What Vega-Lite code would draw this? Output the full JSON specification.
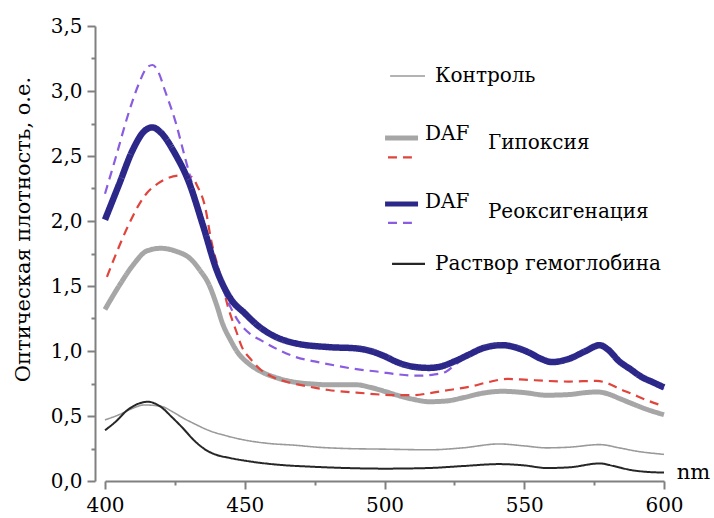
{
  "$schema": "https://vega.github.io/schema/vega-lite/v6.json",
  "width": 559,
  "height": 455,
  "autosize": {"type": "none"},
  "padding": {"left": 105, "top": 26, "right": 50, "bottom": 37},
  "background": "white",
  "config": {
    "view": {"stroke": null},
    "font": "DejaVu Serif",
    "axis": {
      "labelFont": "DejaVu Serif",
      "titleFont": "DejaVu Serif",
      "labelFontSize": 20,
      "titleFontSize": 21,
      "titleFontWeight": "normal",
      "labelColor": "#000000",
      "titleColor": "#000000",
      "domainColor": "#808080",
      "tickColor": "#808080",
      "domainWidth": 2,
      "tickWidth": 2,
      "labelFlush": false,
      "grid": false
    }
  },
  "datasets": {
    "curves": [
      {"series": "Контроль", "nm": 400, "od": 0.47},
      {"series": "Контроль", "nm": 405, "od": 0.51},
      {"series": "Контроль", "nm": 410, "od": 0.56},
      {"series": "Контроль", "nm": 414, "od": 0.585},
      {"series": "Контроль", "nm": 420, "od": 0.575},
      {"series": "Контроль", "nm": 424, "od": 0.535},
      {"series": "Контроль", "nm": 427.5, "od": 0.49},
      {"series": "Контроль", "nm": 432, "od": 0.44},
      {"series": "Контроль", "nm": 437, "od": 0.39},
      {"series": "Контроль", "nm": 443, "od": 0.35},
      {"series": "Контроль", "nm": 450, "od": 0.315},
      {"series": "Контроль", "nm": 458, "od": 0.29},
      {"series": "Контроль", "nm": 468, "od": 0.275},
      {"series": "Контроль", "nm": 476, "od": 0.26},
      {"series": "Контроль", "nm": 486, "od": 0.25},
      {"series": "Контроль", "nm": 500, "od": 0.245},
      {"series": "Контроль", "nm": 516, "od": 0.24},
      {"series": "Контроль", "nm": 528, "od": 0.255},
      {"series": "Контроль", "nm": 541, "od": 0.285},
      {"series": "Контроль", "nm": 550, "od": 0.27},
      {"series": "Контроль", "nm": 558, "od": 0.255},
      {"series": "Контроль", "nm": 566, "od": 0.26},
      {"series": "Контроль", "nm": 577, "od": 0.28},
      {"series": "Контроль", "nm": 584, "od": 0.255},
      {"series": "Контроль", "nm": 590, "od": 0.23},
      {"series": "Контроль", "nm": 600, "od": 0.205},

      {"series": "Раствор гемоглобина", "nm": 400, "od": 0.39},
      {"series": "Раствор гемоглобина", "nm": 404, "od": 0.46},
      {"series": "Раствор гемоглобина", "nm": 408, "od": 0.545},
      {"series": "Раствор гемоглобина", "nm": 412, "od": 0.595},
      {"series": "Раствор гемоглобина", "nm": 415.4, "od": 0.61},
      {"series": "Раствор гемоглобина", "nm": 418, "od": 0.595},
      {"series": "Раствор гемоглобина", "nm": 420, "od": 0.57},
      {"series": "Раствор гемоглобина", "nm": 424, "od": 0.49},
      {"series": "Раствор гемоглобина", "nm": 427.5, "od": 0.415},
      {"series": "Раствор гемоглобина", "nm": 432, "od": 0.31},
      {"series": "Раствор гемоглобина", "nm": 436, "od": 0.24},
      {"series": "Раствор гемоглобина", "nm": 440, "od": 0.2},
      {"series": "Раствор гемоглобина", "nm": 444, "od": 0.18},
      {"series": "Раствор гемоглобина", "nm": 452, "od": 0.15},
      {"series": "Раствор гемоглобина", "nm": 462, "od": 0.125},
      {"series": "Раствор гемоглобина", "nm": 474, "od": 0.11},
      {"series": "Раствор гемоглобина", "nm": 486, "od": 0.1},
      {"series": "Раствор гемоглобина", "nm": 500, "od": 0.095},
      {"series": "Раствор гемоглобина", "nm": 516, "od": 0.1},
      {"series": "Раствор гемоглобина", "nm": 528, "od": 0.115},
      {"series": "Раствор гемоглобина", "nm": 541, "od": 0.13},
      {"series": "Раствор гемоглобина", "nm": 550, "od": 0.12},
      {"series": "Раствор гемоглобина", "nm": 558, "od": 0.1},
      {"series": "Раствор гемоглобина", "nm": 566, "od": 0.105},
      {"series": "Раствор гемоглобина", "nm": 577, "od": 0.135},
      {"series": "Раствор гемоглобина", "nm": 582, "od": 0.115},
      {"series": "Раствор гемоглобина", "nm": 588, "od": 0.085},
      {"series": "Раствор гемоглобина", "nm": 594, "od": 0.07},
      {"series": "Раствор гемоглобина", "nm": 600, "od": 0.065},

      {"series": "Гипоксия + DAF", "nm": 400, "od": 1.32},
      {"series": "Гипоксия + DAF", "nm": 405, "od": 1.5},
      {"series": "Гипоксия + DAF", "nm": 410, "od": 1.66},
      {"series": "Гипоксия + DAF", "nm": 415, "od": 1.77},
      {"series": "Гипоксия + DAF", "nm": 420, "od": 1.79},
      {"series": "Гипоксия + DAF", "nm": 425, "od": 1.77},
      {"series": "Гипоксия + DAF", "nm": 431, "od": 1.7},
      {"series": "Гипоксия + DAF", "nm": 434, "od": 1.62},
      {"series": "Гипоксия + DAF", "nm": 437, "od": 1.52},
      {"series": "Гипоксия + DAF", "nm": 440, "od": 1.35},
      {"series": "Гипоксия + DAF", "nm": 442, "od": 1.215},
      {"series": "Гипоксия + DAF", "nm": 445, "od": 1.08},
      {"series": "Гипоксия + DAF", "nm": 447.6, "od": 0.985},
      {"series": "Гипоксия + DAF", "nm": 451, "od": 0.91},
      {"series": "Гипоксия + DAF", "nm": 456, "od": 0.84},
      {"series": "Гипоксия + DAF", "nm": 462, "od": 0.79},
      {"series": "Гипоксия + DAF", "nm": 468, "od": 0.76},
      {"series": "Гипоксия + DAF", "nm": 475, "od": 0.745},
      {"series": "Гипоксия + DAF", "nm": 480, "od": 0.74},
      {"series": "Гипоксия + DAF", "nm": 485, "od": 0.74},
      {"series": "Гипоксия + DAF", "nm": 490, "od": 0.74},
      {"series": "Гипоксия + DAF", "nm": 495, "od": 0.72},
      {"series": "Гипоксия + DAF", "nm": 500, "od": 0.69},
      {"series": "Гипоксия + DAF", "nm": 504.5, "od": 0.66},
      {"series": "Гипоксия + DAF", "nm": 510, "od": 0.63},
      {"series": "Гипоксия + DAF", "nm": 516, "od": 0.61},
      {"series": "Гипоксия + DAF", "nm": 522, "od": 0.615},
      {"series": "Гипоксия + DAF", "nm": 528, "od": 0.64},
      {"series": "Гипоксия + DAF", "nm": 535, "od": 0.675},
      {"series": "Гипоксия + DAF", "nm": 542, "od": 0.69},
      {"series": "Гипоксия + DAF", "nm": 550, "od": 0.68},
      {"series": "Гипоксия + DAF", "nm": 558, "od": 0.66},
      {"series": "Гипоксия + DAF", "nm": 566, "od": 0.665},
      {"series": "Гипоксия + DAF", "nm": 572, "od": 0.68},
      {"series": "Гипоксия + DAF", "nm": 576, "od": 0.685},
      {"series": "Гипоксия + DAF", "nm": 580, "od": 0.67},
      {"series": "Гипоксия + DAF", "nm": 584, "od": 0.635},
      {"series": "Гипоксия + DAF", "nm": 588, "od": 0.6},
      {"series": "Гипоксия + DAF", "nm": 594, "od": 0.55},
      {"series": "Гипоксия + DAF", "nm": 600, "od": 0.51},

      {"series": "Гипоксия", "nm": 400.7, "od": 1.57},
      {"series": "Гипоксия", "nm": 404, "od": 1.75},
      {"series": "Гипоксия", "nm": 408, "od": 1.95},
      {"series": "Гипоксия", "nm": 412, "od": 2.12},
      {"series": "Гипоксия", "nm": 415, "od": 2.215},
      {"series": "Гипоксия", "nm": 419, "od": 2.29},
      {"series": "Гипоксия", "nm": 422.5, "od": 2.33},
      {"series": "Гипоксия", "nm": 427, "od": 2.35},
      {"series": "Гипоксия", "nm": 431, "od": 2.34},
      {"series": "Гипоксия", "nm": 433, "od": 2.27},
      {"series": "Гипоксия", "nm": 435.8, "od": 2.11},
      {"series": "Гипоксия", "nm": 438, "od": 1.85},
      {"series": "Гипоксия", "nm": 441, "od": 1.6},
      {"series": "Гипоксия", "nm": 444, "od": 1.34},
      {"series": "Гипоксия", "nm": 447, "od": 1.15},
      {"series": "Гипоксия", "nm": 449, "od": 1.03},
      {"series": "Гипоксия", "nm": 452, "od": 0.94},
      {"series": "Гипоксия", "nm": 456, "od": 0.85},
      {"series": "Гипоксия", "nm": 460, "od": 0.8},
      {"series": "Гипоксия", "nm": 465.5, "od": 0.76},
      {"series": "Гипоксия", "nm": 472, "od": 0.73},
      {"series": "Гипоксия", "nm": 480, "od": 0.7},
      {"series": "Гипоксия", "nm": 490, "od": 0.68},
      {"series": "Гипоксия", "nm": 504.5, "od": 0.66},
      {"series": "Гипоксия", "nm": 510, "od": 0.66},
      {"series": "Гипоксия", "nm": 516, "od": 0.675},
      {"series": "Гипоксия", "nm": 523, "od": 0.7},
      {"series": "Гипоксия", "nm": 530.5, "od": 0.725},
      {"series": "Гипоксия", "nm": 537, "od": 0.76},
      {"series": "Гипоксия", "nm": 544, "od": 0.785},
      {"series": "Гипоксия", "nm": 550, "od": 0.78},
      {"series": "Гипоксия", "nm": 558, "od": 0.77},
      {"series": "Гипоксия", "nm": 566, "od": 0.765},
      {"series": "Гипоксия", "nm": 576, "od": 0.77},
      {"series": "Гипоксия", "nm": 580, "od": 0.75},
      {"series": "Гипоксия", "nm": 584, "od": 0.71},
      {"series": "Гипоксия", "nm": 588, "od": 0.675},
      {"series": "Гипоксия", "nm": 594, "od": 0.62},
      {"series": "Гипоксия", "nm": 600, "od": 0.575},

      {"series": "Реоксигенация", "nm": 400, "od": 2.21},
      {"series": "Реоксигенация", "nm": 404, "od": 2.5},
      {"series": "Реоксигенация", "nm": 408, "od": 2.8},
      {"series": "Реоксигенация", "nm": 412, "od": 3.05},
      {"series": "Реоксигенация", "nm": 415, "od": 3.18},
      {"series": "Реоксигенация", "nm": 417, "od": 3.2},
      {"series": "Реоксигенация", "nm": 419, "od": 3.15},
      {"series": "Реоксигенация", "nm": 421.5, "od": 3.0},
      {"series": "Реоксигенация", "nm": 425, "od": 2.78},
      {"series": "Реоксигенация", "nm": 428.6, "od": 2.49},
      {"series": "Реоксигенация", "nm": 432, "od": 2.22},
      {"series": "Реоксигенация", "nm": 436, "od": 1.93},
      {"series": "Реоксигенация", "nm": 440, "od": 1.62},
      {"series": "Реоксигенация", "nm": 444, "od": 1.38},
      {"series": "Реоксигенация", "nm": 448, "od": 1.22},
      {"series": "Реоксигенация", "nm": 452, "od": 1.13},
      {"series": "Реоксигенация", "nm": 456, "od": 1.08},
      {"series": "Реоксигенация", "nm": 462, "od": 1.01},
      {"series": "Реоксигенация", "nm": 468, "od": 0.955},
      {"series": "Реоксигенация", "nm": 475, "od": 0.92},
      {"series": "Реоксигенация", "nm": 482, "od": 0.89},
      {"series": "Реоксигенация", "nm": 490, "od": 0.86},
      {"series": "Реоксигенация", "nm": 498, "od": 0.84},
      {"series": "Реоксигенация", "nm": 505, "od": 0.82},
      {"series": "Реоксигенация", "nm": 512, "od": 0.81},
      {"series": "Реоксигенация", "nm": 518, "od": 0.82},
      {"series": "Реоксигенация", "nm": 522, "od": 0.84},
      {"series": "Реоксигенация", "nm": 525, "od": 0.89},
      {"series": "Реоксигенация", "nm": 530, "od": 0.96},
      {"series": "Реоксигенация", "nm": 535, "od": 1.01},
      {"series": "Реоксигенация", "nm": 542, "od": 1.04},
      {"series": "Реоксигенация", "nm": 548, "od": 1.015},
      {"series": "Реоксигенация", "nm": 552, "od": 0.98},
      {"series": "Реоксигенация", "nm": 556, "od": 0.935},
      {"series": "Реоксигенация", "nm": 560, "od": 0.91},
      {"series": "Реоксигенация", "nm": 566, "od": 0.935},
      {"series": "Реоксигенация", "nm": 572, "od": 0.99},
      {"series": "Реоксигенация", "nm": 577, "od": 1.035},
      {"series": "Реоксигенация", "nm": 580, "od": 1.0},
      {"series": "Реоксигенация", "nm": 584, "od": 0.91},
      {"series": "Реоксигенация", "nm": 588, "od": 0.85},
      {"series": "Реоксигенация", "nm": 592, "od": 0.79},
      {"series": "Реоксигенация", "nm": 596, "od": 0.75},
      {"series": "Реоксигенация", "nm": 600, "od": 0.71},

      {"series": "Реоксигенация + DAF", "nm": 400, "od": 2.01},
      {"series": "Реоксигенация + DAF", "nm": 405, "od": 2.28},
      {"series": "Реоксигенация + DAF", "nm": 410, "od": 2.55},
      {"series": "Реоксигенация + DAF", "nm": 414, "od": 2.69},
      {"series": "Реоксигенация + DAF", "nm": 417, "od": 2.72},
      {"series": "Реоксигенация + DAF", "nm": 420, "od": 2.68},
      {"series": "Реоксигенация + DAF", "nm": 425, "od": 2.52},
      {"series": "Реоксигенация + DAF", "nm": 430, "od": 2.3},
      {"series": "Реоксигенация + DAF", "nm": 435, "od": 1.97},
      {"series": "Реоксигенация + DAF", "nm": 440, "od": 1.62},
      {"series": "Реоксигенация + DAF", "nm": 445, "od": 1.4},
      {"series": "Реоксигенация + DAF", "nm": 450, "od": 1.29},
      {"series": "Реоксигенация + DAF", "nm": 455, "od": 1.19},
      {"series": "Реоксигенация + DAF", "nm": 460, "od": 1.12},
      {"series": "Реоксигенация + DAF", "nm": 468, "od": 1.06},
      {"series": "Реоксигенация + DAF", "nm": 480, "od": 1.03},
      {"series": "Реоксигенация + DAF", "nm": 490, "od": 1.02},
      {"series": "Реоксигенация + DAF", "nm": 495, "od": 1.0},
      {"series": "Реоксигенация + DAF", "nm": 500, "od": 0.96},
      {"series": "Реоксигенация + DAF", "nm": 505, "od": 0.91},
      {"series": "Реоксигенация + DAF", "nm": 510, "od": 0.88},
      {"series": "Реоксигенация + DAF", "nm": 516, "od": 0.87},
      {"series": "Реоксигенация + DAF", "nm": 520, "od": 0.88},
      {"series": "Реоксигенация + DAF", "nm": 525, "od": 0.92},
      {"series": "Реоксигенация + DAF", "nm": 530, "od": 0.97},
      {"series": "Реоксигенация + DAF", "nm": 535, "od": 1.02},
      {"series": "Реоксигенация + DAF", "nm": 542, "od": 1.045},
      {"series": "Реоксигенация + DAF", "nm": 548, "od": 1.02},
      {"series": "Реоксигенация + DAF", "nm": 552, "od": 0.985},
      {"series": "Реоксигенация + DAF", "nm": 556, "od": 0.94},
      {"series": "Реоксигенация + DAF", "nm": 560, "od": 0.915},
      {"series": "Реоксигенация + DAF", "nm": 566, "od": 0.94},
      {"series": "Реоксигенация + DAF", "nm": 572, "od": 1.0},
      {"series": "Реоксигенация + DAF", "nm": 577, "od": 1.045},
      {"series": "Реоксигенация + DAF", "nm": 580, "od": 1.01},
      {"series": "Реоксигенация + DAF", "nm": 584, "od": 0.92},
      {"series": "Реоксигенация + DAF", "nm": 588, "od": 0.86},
      {"series": "Реоксигенация + DAF", "nm": 592, "od": 0.8},
      {"series": "Реоксигенация + DAF", "nm": 596, "od": 0.76},
      {"series": "Реоксигенация + DAF", "nm": 600, "od": 0.72}
    ],
    "legendLines": [
      {"series": "Контроль", "x1": 502.0, "x2": 514.5, "y": 3.115},
      {"series": "Гипоксия + DAF", "x1": 500.2, "x2": 512.0, "y": 2.638},
      {"series": "Гипоксия", "x1": 501.25, "x2": 509.8, "y": 2.49},
      {"series": "Реоксигенация + DAF", "x1": 500.2, "x2": 512.0, "y": 2.13},
      {"series": "Реоксигенация", "x1": 501.25, "x2": 509.8, "y": 1.985},
      {"series": "Раствор гемоглобина", "x1": 502.7, "x2": 514.5, "y": 1.67}
    ],
    "legendTexts": [
      {"label": "Контроль", "x": 518.1, "y": 3.115},
      {"label": "DAF", "x": 514.5, "y": 2.67},
      {"label": "Гипоксия", "x": 537.0, "y": 2.6},
      {"label": "DAF", "x": 514.5, "y": 2.146},
      {"label": "Реоксигенация", "x": 537.0, "y": 2.07},
      {"label": "Раствор гемоглобина", "x": 518.1, "y": 1.67}
    ]
  },
  "layer": [
    {
      "data": {"name": "curves"},
      "transform": [{"filter": "datum.series === 'Контроль'"}],
      "mark": {"type": "line", "interpolate": "monotone", "strokeWidth": 1.6},
      "encoding": {
        "x": {"field": "nm", "type": "quantitative", "scale": {"domain": [400, 600], "nice": false, "zero": false},
          "axis": {"orient": "bottom", "values": [400, 450, 500, 550, 600], "tickSize": 8, "labelPadding": 6, "format": "d",
            "title": "nm", "titleX": 588, "titleY": -9, "titleAlign": "center", "titleBaseline": "middle", "titleAngle": 0, "titleFontSize": 21}},
        "y": {"field": "od", "type": "quantitative", "scale": {"domain": [0, 3.5], "nice": false},
          "axis": {"orient": "left", "values": [0, 0.5, 1, 1.5, 2, 2.5, 3, 3.5], "offset": 10, "tickSize": 8, "labelPadding": 5,
            "labelExpr": "replace(format(datum.value, '.1f'), '.', ',')",
            "title": "Оптическая плотность, о.е.", "titleX": -72, "titleY": 203, "titleAngle": -90,
            "titleAlign": "center", "titleBaseline": "middle"}},
        "color": {"field": "series", "type": "nominal", "legend": null,
          "scale": {"domain": ["Контроль", "Гипоксия + DAF", "Гипоксия", "Реоксигенация + DAF", "Реоксигенация", "Раствор гемоглобина"],
            "range": ["#9a9a9a", "#a6a6a6", "#e0443c", "#2c2889", "#8a5ce0", "#262626"]}},
        "strokeDash": {"field": "series", "type": "nominal", "legend": null,
          "scale": {"domain": ["Контроль", "Гипоксия + DAF", "Гипоксия", "Реоксигенация + DAF", "Реоксигенация", "Раствор гемоглобина"],
            "range": [[1, 0], [1, 0], [9, 6], [1, 0], [9, 6], [1, 0]]}}
      }
    },
    {
      "data": {"name": "curves"},
      "transform": [{"filter": "datum.series === 'Раствор гемоглобина'"}],
      "mark": {"type": "line", "interpolate": "monotone", "strokeWidth": 2},
      "encoding": {
        "x": {"field": "nm", "type": "quantitative", "axis": {"orient": "bottom", "values": [425, 475, 525, 575], "tickSize": 4, "labels": false, "domain": false, "title": null}},
        "y": {"field": "od", "type": "quantitative", "axis": {"orient": "left", "values": [0.25, 0.75, 1.25, 1.75, 2.25, 2.75, 3.25], "offset": 10, "tickSize": 4, "labels": false, "domain": false, "title": null}},
        "color": {"field": "series", "type": "nominal", "legend": null},
        "strokeDash": {"field": "series", "type": "nominal", "legend": null}
      }
    },
    {
      "data": {"name": "curves"},
      "transform": [{"filter": "datum.series === 'Гипоксия + DAF'"}],
      "mark": {"type": "line", "interpolate": "monotone", "strokeWidth": 5},
      "encoding": {
        "x": {"field": "nm", "type": "quantitative", "axis": null},
        "y": {"field": "od", "type": "quantitative", "axis": null},
        "color": {"field": "series", "type": "nominal", "legend": null},
        "strokeDash": {"field": "series", "type": "nominal", "legend": null}
      }
    },
    {
      "data": {"name": "curves"},
      "transform": [{"filter": "datum.series === 'Гипоксия'"}],
      "mark": {"type": "line", "interpolate": "monotone", "strokeWidth": 2.2},
      "encoding": {
        "x": {"field": "nm", "type": "quantitative", "axis": null},
        "y": {"field": "od", "type": "quantitative", "axis": null},
        "color": {"field": "series", "type": "nominal", "legend": null},
        "strokeDash": {"field": "series", "type": "nominal", "legend": null}
      }
    },
    {
      "data": {"name": "curves"},
      "transform": [{"filter": "datum.series === 'Реоксигенация'"}],
      "mark": {"type": "line", "interpolate": "monotone", "strokeWidth": 2.2},
      "encoding": {
        "x": {"field": "nm", "type": "quantitative", "axis": null},
        "y": {"field": "od", "type": "quantitative", "axis": null},
        "color": {"field": "series", "type": "nominal", "legend": null},
        "strokeDash": {"field": "series", "type": "nominal", "legend": null}
      }
    },
    {
      "data": {"name": "curves"},
      "transform": [{"filter": "datum.series === 'Реоксигенация + DAF'"}],
      "mark": {"type": "line", "interpolate": "monotone", "strokeWidth": 6.5},
      "encoding": {
        "x": {"field": "nm", "type": "quantitative", "axis": null},
        "y": {"field": "od", "type": "quantitative", "axis": null},
        "color": {"field": "series", "type": "nominal", "legend": null},
        "strokeDash": {"field": "series", "type": "nominal", "legend": null}
      }
    },
    {
      "data": {"name": "legendLines"},
      "transform": [{"filter": "datum.series === 'Контроль'"}],
      "mark": {"type": "rule", "strokeWidth": 1.6},
      "encoding": {
        "x": {"field": "x1", "type": "quantitative", "axis": null},
        "x2": {"field": "x2"},
        "y": {"field": "y", "type": "quantitative", "axis": null},
        "color": {"field": "series", "type": "nominal", "legend": null},
        "strokeDash": {"field": "series", "type": "nominal", "legend": null}
      }
    },
    {
      "data": {"name": "legendLines"},
      "transform": [{"filter": "datum.series === 'Раствор гемоглобина'"}],
      "mark": {"type": "rule", "strokeWidth": 2.4},
      "encoding": {
        "x": {"field": "x1", "type": "quantitative", "axis": null},
        "x2": {"field": "x2"},
        "y": {"field": "y", "type": "quantitative", "axis": null},
        "color": {"field": "series", "type": "nominal", "legend": null},
        "strokeDash": {"field": "series", "type": "nominal", "legend": null}
      }
    },
    {
      "data": {"name": "legendLines"},
      "transform": [{"filter": "datum.series === 'Гипоксия + DAF' || datum.series === 'Реоксигенация + DAF'"}],
      "mark": {"type": "rule", "strokeWidth": 5},
      "encoding": {
        "x": {"field": "x1", "type": "quantitative", "axis": null},
        "x2": {"field": "x2"},
        "y": {"field": "y", "type": "quantitative", "axis": null},
        "color": {"field": "series", "type": "nominal", "legend": null},
        "strokeDash": {"field": "series", "type": "nominal", "legend": null}
      }
    },
    {
      "data": {"name": "legendLines"},
      "transform": [{"filter": "datum.series === 'Гипоксия' || datum.series === 'Реоксигенация'"}],
      "mark": {"type": "rule", "strokeWidth": 2.2},
      "encoding": {
        "x": {"field": "x1", "type": "quantitative", "axis": null},
        "x2": {"field": "x2"},
        "y": {"field": "y", "type": "quantitative", "axis": null},
        "color": {"field": "series", "type": "nominal", "legend": null},
        "strokeDash": {"field": "series", "type": "nominal", "legend": null}
      }
    },
    {
      "data": {"name": "legendTexts"},
      "mark": {"type": "text", "align": "left", "baseline": "middle", "font": "DejaVu Serif", "fontSize": 20, "color": "#000000"},
      "encoding": {
        "x": {"field": "x", "type": "quantitative", "axis": null},
        "y": {"field": "y", "type": "quantitative", "axis": null},
        "text": {"field": "label", "type": "nominal"}
      }
    }
  ],
  "resolve": {"axis": {"x": "independent", "y": "independent"}}
}
